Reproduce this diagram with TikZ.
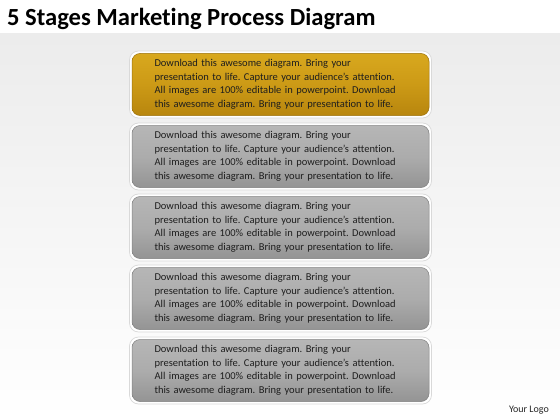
\documentclass[tikz,border=0pt]{standalone}
\usepackage{fontspec}
\setmainfont{Carlito}[Ligatures=NoCommon]
\definecolor{bgtop}{RGB}{236,236,236}
\definecolor{goldtop}{RGB}{216,168,30}
\definecolor{goldmid}{RGB}{204,154,22}
\definecolor{goldbot}{RGB}{184,134,14}
\definecolor{graytop}{RGB}{182,182,182}
\definecolor{graymid}{RGB}{172,172,172}
\definecolor{graybot}{RGB}{148,148,148}
\definecolor{txt}{RGB}{30,30,30}
\tikzset{
  frame/.style={draw=black!15, line width=0.7pt, fill=white, rounded corners=9pt,
    minimum width=302pt, minimum height=67pt, inner sep=0pt},
  goldbox/.style={rounded corners=8pt, minimum width=297pt, minimum height=62pt,
    inner sep=0pt, top color=goldtop, bottom color=goldbot, middle color=goldmid, draw=goldbot!85!black, line width=0.5pt},
  graybox/.style={rounded corners=8pt, minimum width=297pt, minimum height=62pt,
    inner sep=0pt, top color=graytop, bottom color=graybot, middle color=graymid, draw=black!50, line width=0.5pt},
  body/.style={text=txt, font=\fontsize{10.5}{13.5}\selectfont, align=left, text width=270pt, anchor=west}
}
\begin{document}
\begin{tikzpicture}[x=1pt,y=-1pt]
\frenchspacing
\useasboundingbox (0,0) rectangle (560,420);
\fill[white] (0,0) rectangle (560,420);
\shade[top color=bgtop, bottom color=white] (0,34) rectangle (560,420);
\node[anchor=west, font=\fontsize{24.6}{28}\selectfont\bfseries, text=black, inner sep=0pt] (title) at (7,19) {5 Stages Marketing Process Diagram};
\newcommand{\bodytext}{Download this awesome diagram. Bring your\\presentation to life. Capture your audience’s attention.\\All images are 100\% editable in powerpoint. Download\\this awesome diagram. Bring your presentation to life.}
\foreach \i/\y/\st in {1/84.5/goldbox,2/156.5/graybox,3/227.5/graybox,4/298.5/graybox,5/370.5/graybox}{
  \node[frame] (f\i) at (280.5,\y) {};
  \node[\st] (b\i) at (280.5,\y) {};
  \node[body] (t\i) at (151,\y) {\bodytext};
}
\node[anchor=east, font=\fontsize{10}{12}\selectfont, text=black!85, inner sep=0pt] (logo) at (549,410) {Your Logo};
\end{tikzpicture}
\end{document}
